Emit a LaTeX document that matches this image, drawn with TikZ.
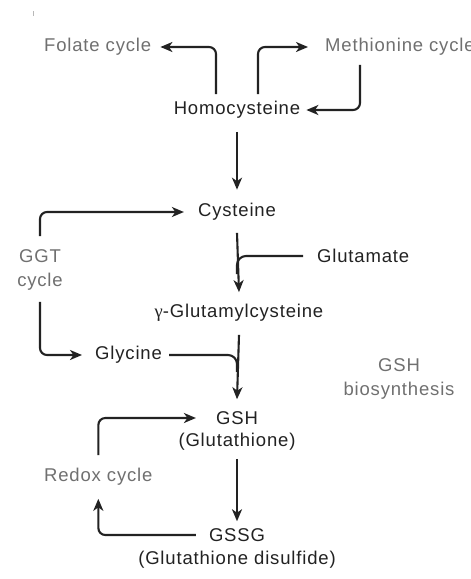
\documentclass[tikz,border=0pt]{standalone}
\usepackage{fontspec}
\setmainfont{Liberation Sans}[LetterSpace=4.5]
\newfontfamily\greekserif{Liberation Serif}
\usetikzlibrary{arrows.meta}
\definecolor{ink}{HTML}{222222}
\definecolor{soft}{HTML}{707070}
\tikzset{
  mol/.style={text=ink, font=\fontsize{18.5}{22}\selectfont, inner sep=0pt, align=center},
  cyc/.style={text=soft, font=\fontsize{18.5}{24.5}\selectfont, inner sep=0pt, align=center},
  flow/.style={draw=ink, line width=2.1pt, rounded corners=7pt, -{Stealth[length=12pt,width=10pt,inset=3.5pt]}},
  merge/.style={draw=ink, line width=2.1pt, rounded corners=9pt}
}
\begin{document}
\begin{tikzpicture}[x=1pt,y=-1pt]
\useasboundingbox (0,0) rectangle (471,579);
\fill[white] (0,0) rectangle (471,579);
\draw[soft!50, line width=0.8pt] (33,11) -- (33,16);
% nodes
\node[cyc, anchor=west] (fol) at (44,47) {Folate cycle};
\node[cyc, anchor=west] (met) at (325,47) {Methionine cycle};
\node[mol] (hcy) at (237,110) {Homocysteine};
\node[mol] (cys) at (237,212) {Cysteine};
\node[cyc] (ggt) at (40,270) {GGT\\cycle};
\node[mol, anchor=west] (glu) at (317,256) {Glutamate};
\node[mol] (gglu) at (239,313) {{\greekserif γ}-Glutamylcysteine};
\node[mol, anchor=west] (gly) at (95,355) {Glycine};
\node[cyc] (gshb) at (399,379) {GSH\\biosynthesis};
\node[mol] (gsh) at (237,418) {GSH};
\node[mol] (gshn) at (237,442) {(Glutathione)};
\node[cyc, anchor=west] (red) at (44,477) {Redox cycle};
\node[mol] (gssg) at (237,535) {GSSG};
\node[mol] (gssgn) at (237,560) {(Glutathione disulfide)};
% merge points on the main line
\coordinate (m1) at (237,274);
\coordinate (m2) at (237,372);
% connectors
\draw[flow] ([xshift=-21pt,yshift=7pt]hcy.north) |- ([xshift=9pt]fol.east);
\draw[flow] ([xshift=21pt,yshift=7pt]hcy.north) |- ([xshift=-17pt]met.west);
\draw[flow] ([xshift=35pt,yshift=-9pt]met.south west) |- ([xshift=6pt]hcy.east);
\draw[flow] ([yshift=-13pt]hcy.south) -- ([yshift=13.5pt]cys.north);
\draw[flow] ([yshift=13pt]ggt.north) |- ([xshift=-14pt]cys.west);
\draw[flow] ([yshift=-11pt]ggt.south) |- ([xshift=-13pt]gly.west);
\draw[flow] ([yshift=-12pt]cys.south) -- ([yshift=12pt]gglu.north);
\draw[merge] ([xshift=-14pt]glu.west) -| (m1);
\draw[flow] ([yshift=-13pt]gglu.south) -- ([yshift=12pt]gsh.north);
\draw[merge] ([xshift=7pt]gly.east) -| (m2);
\draw[flow] ([yshift=13pt]red.north) |- ([xshift=-20pt]gsh.west);
\draw[flow] ([yshift=-8pt]gshn.south) -- ([yshift=7pt]gssg.north);
\draw[flow] ([xshift=-13pt]gssg.west) -| ([yshift=-13pt]red.south);
\end{tikzpicture}
\end{document}
